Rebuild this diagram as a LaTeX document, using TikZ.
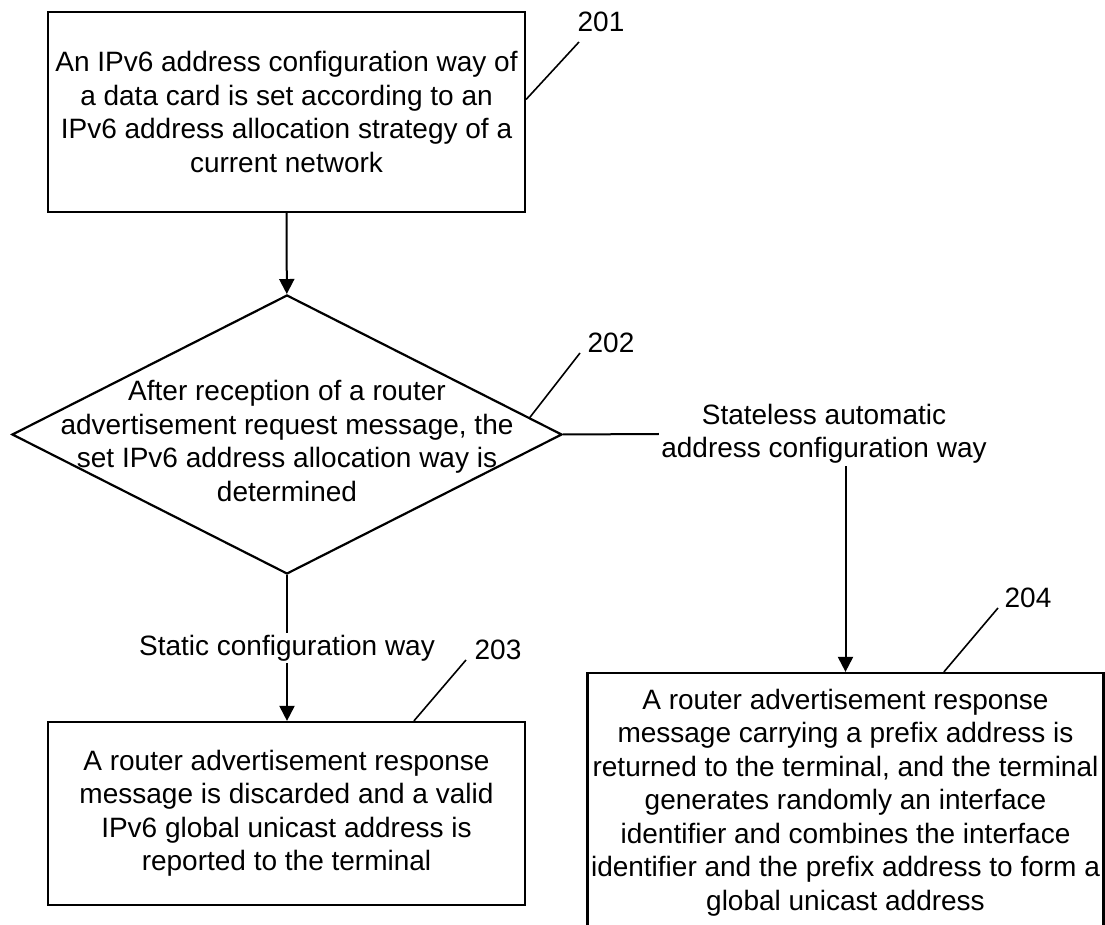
\documentclass[tikz,border=0pt]{standalone}
\usepackage{fontspec}
\setmainfont{Liberation Sans}
\usetikzlibrary{arrows.meta,shapes.geometric}

\begin{document}
\begin{tikzpicture}[x=0.5pt, y=-0.5pt,
  >={Triangle[length=7.5pt, width=7.5pt]},
  every node/.style={font=\fontsize{14}{16.75}\selectfont, align=center},
  stepbox/.style={draw, line width=1.1pt, inner sep=0pt},
  wayname/.style={inner sep=1pt},
  flow/.style={line width=1pt},
  lead/.style={line width=0.8pt}]
% page of the figure, in pixels of the drawing
\useasboundingbox (0,0) rectangle (1105,925);

\node[stepbox, minimum width=238.5pt, minimum height=100pt] (s201) at (286.5,112)
  {An IPv6 address configuration way of\\ a data card is set according to an\\
   IPv6 address allocation strategy of a\\ current network};
\node[draw, diamond, line width=1.1pt, inner sep=0pt,
      minimum width=275pt, minimum height=139.5pt] (s202) at (287,434.5) {};
\node (q202) at (287,441) {After reception of a router\\ advertisement request message, the\\
   set IPv6 address allocation way is\\ determined};
\node[stepbox, minimum width=238.5pt, minimum height=91.5pt] (s203) at (286.5,813.5)
  {A router advertisement response\\ message is discarded and a valid\\
   IPv6 global unicast address is\\ reported to the terminal};
\node[stepbox, minimum width=258pt, minimum height=129.5pt] (s204) at (845.5,802.5)
  {A router advertisement response\\ message carrying a prefix address is\\
   returned to the terminal, and the terminal\\ generates randomly an interface\\
   identifier and combines the interface\\ identifier and the prefix address to form a\\
   global unicast address};

% the two ways out of the decision
\node[wayname] (static) at (287,648) {Static configuration way};
\node[wayname] (free) at (824,434) {Stateless automatic\\ address configuration way};

\draw[flow, ->] (s201) -- (s202);
\draw[flow] (s202) -- (static);
\draw[flow, ->] (static) -- (static |- s203.north);
\draw[flow] (s202.east) -- (free.west);
\draw[flow, ->] (free.south -| s204.north) -- (s204.north);

% reference numbers
\node (n201) at (601,22) {201};
\node (n202) at (611,343) {202};
\node (n203) at (498,650) {203};
\node (n204) at (1028,598) {204};
\coordinate (t201) at (579,42);
\coordinate (t202) at (580,353);
\coordinate (t203) at (466,660);
\coordinate (t204) at (998,608);
\draw[lead] (s201.3) -- (t201);
\draw[lead] (s202.4) -- (t202);
\draw[lead] (s203.36) -- (t203);
\draw[lead] (s204.53) -- (t204);
\end{tikzpicture}
\end{document}
